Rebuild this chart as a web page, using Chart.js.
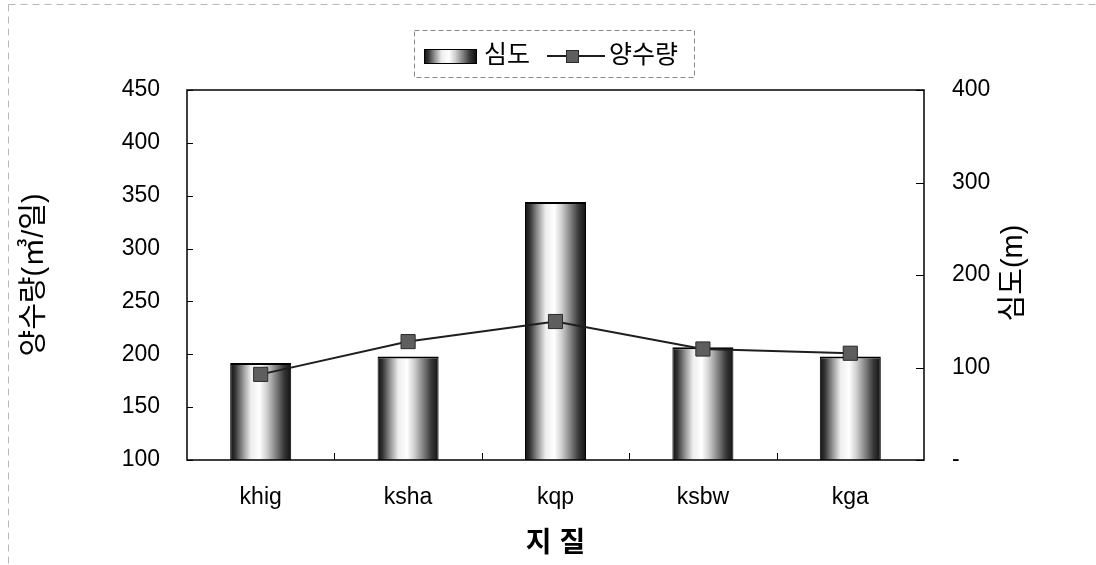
<!DOCTYPE html>
<html>
<head>
<meta charset="utf-8">
<script src="https://cdn.jsdelivr.net/npm/chart.js@4.4.0/dist/chart.umd.min.js"></script>
<style>
  html, body { margin: 0; padding: 0; background: #fff; }
  #wrap { width: 1096px; height: 565px; position: relative; }
</style>
</head>
<body>
<div id="wrap"><canvas id="geoChart"></canvas></div>
<script>
// 지질별 심도 / 양수량
const categories  = ['khig', 'ksha', 'kqp', 'ksbw', 'kga'];
const depthValues = [105, 112, 279, 122, 112];   // 심도 (m) - 오른쪽 축
const yieldValues = [181, 212, 231, 205, 201];   // 양수량 (㎥/일) - 왼쪽 축
const yieldAxis   = [100, 450, 50];              // min, max, step
const depthAxis   = [0, 400, 100];

const FONT = "Arial, 'Liberation Sans', 'Noto Sans CJK KR', sans-serif";
const CAT_PCT = 0.414;

// 원통 모양 막대 채우기 (좌우 어둡고 가운데 밝게)
function cylinderGradient(c, x0, x1) {
    const g = c.createLinearGradient(x0, 0, x1, 0);
    g.addColorStop(0.00, '#111');
    g.addColorStop(0.08, '#333');
    g.addColorStop(0.20, '#8e8e8e');
    g.addColorStop(0.34, '#eeeeee');
    g.addColorStop(0.48, '#ffffff');
    g.addColorStop(0.60, '#d0d0d0');
    g.addColorStop(0.74, '#858585');
    g.addColorStop(0.88, '#383838');
    g.addColorStop(1.00, '#111');
    return g;
}

function barFill(ctx) {
    const chart = ctx.chart;
    const xs = chart.scales.x;
    if (!chart.chartArea || !xs || ctx.type !== 'data') return '#999';
    const xc = xs.getPixelForValue(ctx.dataIndex);
    const w = xs.width / categories.length * CAT_PCT;
    return cylinderGradient(chart.ctx, xc - w / 2, xc + w / 2);
}

// 바깥 점선 테두리
const outerFrame = {
    id: 'outerFrame',
    beforeDraw(chart) {
        const c = chart.ctx;
        c.save();
        c.strokeStyle = '#b8b8b8';
        c.lineWidth = 1;
        c.setLineDash([7, 5]);
        c.beginPath();
        c.moveTo(8.5, 4.5); c.lineTo(chart.width, 4.5);
        c.moveTo(8.5, 4.5); c.lineTo(8.5, chart.height);
        c.stroke();
        c.restore();
    }
};

// 플롯 영역 테두리 + 안쪽 눈금
const plotFrame = {
    id: 'plotFrame',
    afterDatasetsDraw(chart) {
        const c = chart.ctx;
        const { left, right, top, bottom } = chart.chartArea;
        c.save();
        c.strokeStyle = '#000';
        c.lineWidth = 1.5;
        c.strokeRect(left, top, right - left, bottom - top);
        c.lineWidth = 1;
        c.beginPath();
        chart.scales.y.ticks.forEach(t => {
            const y = Math.round(chart.scales.y.getPixelForValue(t.value)) + 0.5;
            c.moveTo(left, y); c.lineTo(left + 6, y);
        });
        chart.scales.y1.ticks.forEach(t => {
            const y = Math.round(chart.scales.y1.getPixelForValue(t.value)) + 0.5;
            c.moveTo(right - 8, y); c.lineTo(right, y);
        });
        const xs = chart.scales.x;
        const step = xs.width / categories.length;
        for (let i = 1; i < categories.length; i++) {
            const x = Math.round(xs.left + step * i) + 0.5;
            c.moveTo(x, bottom); c.lineTo(x, bottom - 7);
        }
        c.stroke();
        c.restore();
    }
};

// 오른쪽 축 제목 (아래에서 위로 읽는 방향)
const rightTitle = {
    id: 'rightTitle',
    afterDraw(chart) {
        const c = chart.ctx;
        const { top, bottom } = chart.chartArea;
        c.save();
        c.translate(1014, (top + bottom) / 2 - 2);
        c.rotate(-Math.PI / 2);
        c.font = `29px ${FONT}`;
        c.fillStyle = '#000';
        c.textAlign = 'center';
        c.textBaseline = 'middle';
        c.fillText('심도(m)', 0, 0);
        c.restore();
    }
};

// 범례
const boxLegend = {
    id: 'boxLegend',
    afterDraw(chart) {
        const c = chart.ctx;
        const bar = chart.data.datasets[1];
        const line = chart.data.datasets[0];
        c.save();
        c.strokeStyle = '#888';
        c.lineWidth = 1;
        c.setLineDash([5, 3]);
        c.strokeRect(414.5, 30.5, 280, 47);
        c.setLineDash([]);

        // 막대 견본
        c.fillStyle = cylinderGradient(c, 424, 476);
        c.fillRect(424, 49, 52, 14);
        c.strokeStyle = '#000';
        c.strokeRect(424.5, 49.5, 52, 14);

        // 선 + 표식 견본
        c.strokeStyle = line.borderColor;
        c.lineWidth = 2;
        c.beginPath();
        c.moveTo(547, 56); c.lineTo(605, 56);
        c.stroke();
        c.fillStyle = line.pointBackgroundColor;
        c.fillRect(566, 50, 13, 13);
        c.strokeStyle = line.pointBorderColor;
        c.lineWidth = 1;
        c.strokeRect(566.5, 50.5, 12, 12);

        c.fillStyle = '#000';
        c.font = `25px ${FONT}`;
        c.textBaseline = 'middle';
        c.fillText(bar.label, 484, 56);
        c.fillText(line.label, 609, 56);
        c.restore();
    }
};

const tickFont = { family: FONT, size: 23 };

new Chart(document.getElementById('geoChart').getContext('2d'), {
    type: 'bar',
    data: {
        labels: categories,
        datasets: [
            {
                type: 'line',
                label: '양수량',
                data: yieldValues,
                yAxisID: 'y',
                order: 0,
                borderColor: '#1e1e1e',
                borderWidth: 2,
                tension: 0,
                pointStyle: 'rect',
                pointRadius: 10,
                pointHoverRadius: 10,
                pointBackgroundColor: '#5e5e5e',
                pointBorderColor: '#2a2a2a',
                pointBorderWidth: 1
            },
            {
                label: '심도',
                data: depthValues,
                yAxisID: 'y1',
                order: 1,
                backgroundColor: barFill,
                borderColor: '#000',
                borderWidth: { top: 2, left: 1, right: 1, bottom: 0 },
                borderSkipped: false,
                barPercentage: 1,
                categoryPercentage: CAT_PCT
            }
        ]
    },
    options: {
        responsive: true,
        maintainAspectRatio: false,
        animation: false,
        layout: { padding: { top: 90, left: 0, right: 0, bottom: 0 } },
        plugins: {
            legend: { display: false },
            title: { display: false },
            tooltip: { enabled: false }
        },
        scales: {
            x: {
                grid: { display: false, drawTicks: false },
                border: { display: false },
                ticks: { color: '#000', font: tickFont, padding: 24 },
                title: {
                    display: true, text: '지 질', color: '#000',
                    font: { family: FONT, size: 28, weight: 'bold' },
                    padding: { top: 4, bottom: 4 }
                },
                afterFit: s => { s.height = 105; }
            },
            y: {
                position: 'left',
                min: yieldAxis[0],
                max: yieldAxis[1],
                grid: { display: false, drawTicks: false },
                border: { display: false },
                ticks: { stepSize: yieldAxis[2], color: '#000', font: tickFont, padding: 27 },
                title: {
                    display: true, text: '양수량(㎥/일)', color: '#000',
                    font: { family: FONT, size: 29 },
                    padding: { top: 18, bottom: 18 }
                },
                afterFit: s => { s.width = 187; }
            },
            y1: {
                position: 'right',
                min: depthAxis[0],
                max: depthAxis[1],
                grid: { display: false, drawTicks: false },
                border: { display: false },
                ticks: {
                    stepSize: depthAxis[2], color: '#000', font: tickFont, padding: 28,
                    callback: v => (v === 0 ? '-' : v)
                },
                afterFit: s => { s.width = 172; }
            }
        }
    },
    plugins: [outerFrame, plotFrame, rightTitle, boxLegend]
});
</script>
</body>
</html>
